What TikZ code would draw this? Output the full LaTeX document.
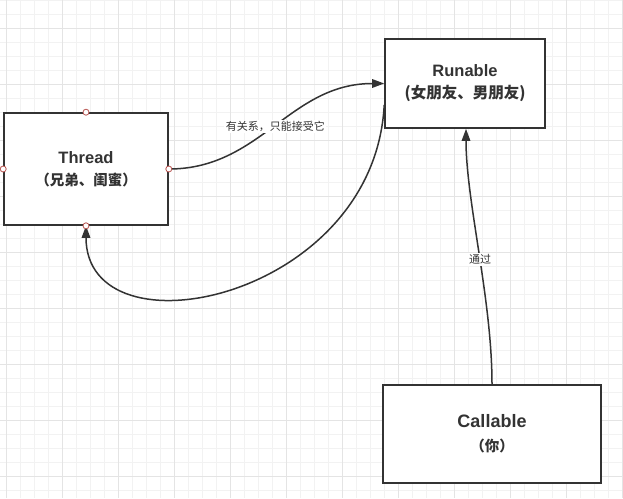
\documentclass[tikz,border=0pt]{standalone}
\usepackage{fontspec}
\newfontfamily\cjk{Noto Sans CJK SC}
\newfontfamily\lat{Liberation Sans}
\usetikzlibrary{arrows.meta}
\definecolor{ink}{HTML}{333333}
\definecolor{gridminor}{HTML}{F2F2F2}
\definecolor{gridmajor}{HTML}{E4E4E4}
\definecolor{portred}{HTML}{B85450}
\tikzset{
  box/.style={draw=ink, line width=1.6pt, fill=white, rectangle, align=center, text=ink, inner sep=0pt},
  conn/.style={draw=ink, line width=1.5pt, -{Triangle[length=12pt,width=8.5pt]}},
  elabel/.style={fill=white, text=ink, inner sep=1.5pt, font=\cjk\fontsize{11}{13}\selectfont},
  port/.style={circle, draw=portred, fill=white, line width=0.8pt, minimum size=6pt, inner sep=0pt}
}
\begin{document}
\begin{tikzpicture}[x=1pt,y=-1pt]
\useasboundingbox (0,0) rectangle (623,498);
\fill[white] (0,0) rectangle (623,498);
% grid
\foreach \gx in {6,20,...,622} \draw[gridminor, line width=0.8pt] (\gx,0) -- (\gx,498);
\foreach \gy in {0,14,...,498} \draw[gridminor, line width=0.8pt] (0,\gy) -- (623,\gy);
\foreach \gx in {6,62,...,622} \draw[gridmajor, line width=0.9pt] (\gx,0) -- (\gx,498);
\foreach \gy in {28,84,...,498} \draw[gridmajor, line width=0.9pt] (0,\gy) -- (623,\gy);

\node[box, minimum width=164pt, minimum height=112pt, font=\fontsize{16}{22}\selectfont] (thread) at (86,169)
  {{\lat\bfseries\fontsize{16.5}{22}\selectfont Thread}\\{\cjk\bfseries\fontsize{14.5}{22}\selectfont （兄弟、闺蜜）}};
\node[box, minimum width=160pt, minimum height=89pt, font=\fontsize{16}{22}\selectfont] (runable) at (465,83.5)
  {{\lat\bfseries\fontsize{16.5}{22}\selectfont Runable}\\{\cjk\bfseries\fontsize{15.5}{22}\selectfont (女朋友、男朋友)}};
\node[box, minimum width=218pt, minimum height=98pt, font=\fontsize{17}{24}\selectfont] (callable) at (492,434)
  {{\lat\bfseries\fontsize{18}{24}\selectfont Callable}\\{\cjk\bfseries\fontsize{14.5}{24}\selectfont （你）}};

\draw[conn] (thread.east) .. controls +(92,0) and +(-95,0) .. (runable.west)
  node[elabel, pos=0.5] (l1) {有关系，只能接受它};
\draw[conn] ([yshift=-21.5pt]runable.west) .. controls +(-10,195) and +(0,133) .. (thread.south);
\draw[conn] (callable.north) .. controls +(0,-85) and +(0,72) .. ([xshift=1pt]runable.south)
  node[elabel, pos=0.47] (l2) {通过};

\node[port] (p1) at (thread.north) {};
\node[port] (p2) at (thread.south) {};
\node[port] (p3) at (thread.west) {};
\node[port] (p4) at (thread.east) {};
\end{tikzpicture}
\end{document}
